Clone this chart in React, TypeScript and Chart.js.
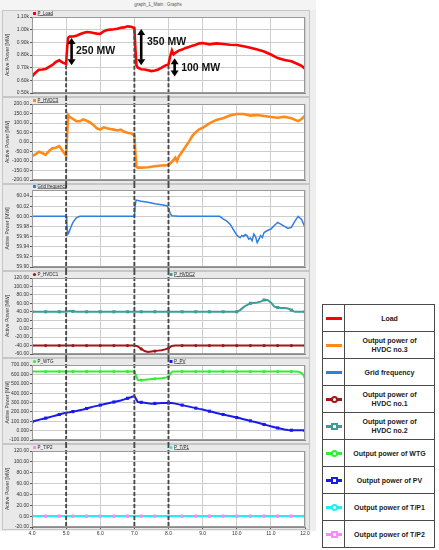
import React, { useEffect, useRef } from "react";
import { Chart, registerables } from "chart.js";

Chart.register(...registerables);

// ---------------- data ----------------
const X_TICKS = [4, 5, 6, 7, 8, 9, 10, 11, 12];
const X_LABELS = ["4.0", "5.0", "6.0", "7.0", "8.0", "9.0", "10.0", "11.0", "12.0"];

// event instants (s) marked with dashed lines
const EVENT_TIMES = [5.0, 7.0, 8.0];
const EVENT_START_LOAD = [0.72, 1.0, 0.72];

// load (k MW)
const LOAD_T = [4.0, 4.1, 4.2, 4.3, 4.4, 4.5, 4.6, 4.7, 4.8, 4.9, 5.0, 5.03, 5.06, 5.1, 5.2, 5.3, 5.4, 5.5, 5.6, 5.7, 5.8, 5.9, 6.0, 6.1, 6.2, 6.3, 6.4, 6.5, 6.6, 6.7, 6.8, 6.9, 7.0, 7.03, 7.06, 7.1, 7.2, 7.3, 7.4, 7.5, 7.6, 7.7, 7.8, 7.9, 8.0, 8.05, 8.1, 8.15, 8.2, 8.3, 8.4, 8.5, 8.6, 8.7, 8.8, 8.9, 9.0, 9.2, 9.4, 9.6, 9.8, 10.0, 10.2, 10.4, 10.6, 10.8, 11.0, 11.2, 11.4, 11.6, 11.8, 11.9, 12.0];
const LOAD_V = [0.63, 0.66, 0.683, 0.686, 0.69, 0.706, 0.722, 0.745, 0.758, 0.74, 0.73, 0.86, 0.935, 0.945, 0.946, 0.951, 0.964, 0.974, 0.982, 0.979, 0.974, 0.969, 0.967, 0.987, 0.997, 1.0, 1.003, 1.008, 1.015, 1.018, 1.026, 1.023, 1.013, 0.85, 0.72, 0.70, 0.688, 0.686, 0.68, 0.673, 0.678, 0.686, 0.70, 0.716, 0.727, 0.79, 0.835, 0.805, 0.817, 0.835, 0.843, 0.856, 0.863, 0.874, 0.881, 0.892, 0.894, 0.884, 0.892, 0.887, 0.881, 0.879, 0.869, 0.858, 0.843, 0.827, 0.804, 0.776, 0.76, 0.75, 0.727, 0.715, 0.691];

// HVDC no.3 (MW)
const HVDC3_T = [4.0, 4.1, 4.2, 4.3, 4.4, 4.5, 4.6, 4.7, 4.8, 4.9, 5.0, 5.03, 5.06, 5.1, 5.2, 5.3, 5.4, 5.5, 5.6, 5.7, 5.8, 5.9, 6.0, 6.1, 6.2, 6.3, 6.4, 6.5, 6.6, 6.7, 6.8, 6.9, 7.0, 7.03, 7.06, 7.1, 7.2, 7.4, 7.6, 7.8, 8.0, 8.1, 8.2, 8.25, 8.3, 8.4, 8.5, 8.6, 8.7, 8.8, 8.9, 9.0, 9.2, 9.4, 9.6, 9.8, 10.0, 10.2, 10.4, 10.6, 10.8, 11.0, 11.2, 11.4, 11.6, 11.8, 11.9, 12.0];
const HVDC3_V = [-74, -65, -51, -58, -68, -47, -33, -30, -22, -47, -73, 40, 142, 133, 121, 110, 109, 119, 112, 103, 90, 72, 65, 77, 72, 68, 65, 61, 65, 54, 49, 46, 33, -60, -130, -135, -135, -133, -128, -124, -121, -104, -82, -100, -77, -51, -25, 2, 33, 51, 67, 75, 98, 116, 125, 139, 147, 147, 139, 142, 137, 132, 128, 133, 125, 110, 121, 139];

// grid frequency (Hz)
const FREQ_T = [4.0, 5.0, 5.02, 5.05, 5.08, 5.12, 5.16, 5.2, 5.3, 5.4, 5.5, 5.6, 7.0, 7.02, 7.05, 7.2, 7.4, 7.6, 7.8, 7.95, 8.0, 8.05, 8.1, 8.3, 9.5, 9.6, 9.7, 9.8, 9.9, 10.0, 10.05, 10.1, 10.15, 10.2, 10.25, 10.3, 10.35, 10.4, 10.45, 10.5, 10.55, 10.6, 10.65, 10.7, 10.75, 10.8, 10.9, 11.0, 11.1, 11.2, 11.3, 11.4, 11.5, 11.6, 11.7, 11.8, 11.9, 12.0];
const FREQ_V = [60.0, 60.0, 59.985, 59.965, 59.968, 59.975, 59.982, 59.988, 59.997, 60.0, 60.0, 60.0, 60.0, 60.02, 60.032, 60.03, 60.028, 60.025, 60.023, 60.021, 60.016, 60.006, 60.001, 60.0, 60.0, 59.995, 59.991, 59.985, 59.974, 59.963, 59.96, 59.958, 59.962, 59.96, 59.964, 59.962, 59.955, 59.957, 59.952, 59.965, 59.96, 59.948, 59.955, 59.962, 59.958, 59.968, 59.972, 59.975, 59.982, 59.988, 59.984, 59.98, 59.976, 59.978, 59.99, 60.0, 59.994, 59.978];

// common sampling for the marker series (s)
const STEP_T = [
  4.0, 4.1, 4.2, 4.3, 4.4, 4.5, 4.6, 4.7, 4.8, 4.9,
  5.0, 5.1, 5.2, 5.3, 5.4, 5.5, 5.6, 5.7, 5.8, 5.9,
  6.0, 6.1, 6.2, 6.3, 6.4, 6.5, 6.6, 6.7, 6.8, 6.9,
  7.0, 7.1, 7.2, 7.3, 7.4, 7.5, 7.6, 7.7, 7.8, 7.9,
  8.0, 8.1, 8.2, 8.3, 8.4, 8.5, 8.6, 8.7, 8.8, 8.9,
  9.0, 9.1, 9.2, 9.3, 9.4, 9.5, 9.6, 9.7, 9.8, 9.9,
  10.0, 10.1, 10.2, 10.3, 10.4, 10.5, 10.6, 10.7, 10.8, 10.9,
  11.0, 11.1, 11.2, 11.3, 11.4, 11.5, 11.6, 11.7, 11.8, 11.9,
  12.0,
];
const HVDC1_V = [
  -40, -40, -40, -40, -40, -40, -40, -40, -40, -40,
  -40, -40, -40, -40, -40, -40, -40, -40, -40, -40,
  -40, -40, -40, -40, -40, -40, -40, -40, -40, -40,
  -40, -42, -48, -53, -55, -54, -53, -52, -51, -49,
  -46, -41, -40, -40, -40, -40, -40, -40, -40, -40,
  -40, -40, -40, -40, -40, -40, -40, -40, -40, -40,
  -40, -40, -40, -40, -40, -40, -40, -40, -40, -40,
  -40, -40, -40, -40, -40, -40, -40, -40, -40, -40,
  -40,
];
const HVDC2_V = [
  40, 40, 40, 40, 40, 40, 40, 40, 40, 40,
  40, 42, 41, 40, 40, 40, 40, 40, 40, 40,
  40, 40, 40, 40, 40, 40, 40, 40, 40, 40,
  40, 40, 40, 40, 40, 40, 40, 40, 40, 40,
  40, 40, 40, 40, 40, 40, 40, 40, 40, 40,
  40, 40, 40, 40, 40, 40, 40, 40, 40, 40,
  40, 44, 51, 56, 60, 61, 62, 64, 68, 68,
  62, 52, 50, 49, 49, 48, 44, 40, 40, 40,
  40,
];
const WTG_V = [
  630, 630, 630, 630, 630, 630, 630, 630, 630, 630,
  630, 630, 630, 630, 630, 630, 630, 630, 630, 630,
  630, 630, 630, 630, 630, 630, 630, 630, 630, 630,
  630, 540, 538, 542, 546, 550, 553, 556, 559, 563,
  575, 628, 630, 630, 630, 630, 630, 630, 630, 630,
  630, 630, 630, 630, 630, 630, 630, 630, 630, 630,
  630, 630, 630, 630, 630, 630, 630, 630, 630, 630,
  630, 630, 630, 630, 630, 630, 630, 630, 628, 615,
  570,
];
const PV_V = [
  95, 105, 115, 125, 133, 142, 152, 162, 172, 182,
  190, 196, 203, 210, 218, 226, 236, 246, 256, 264,
  272, 281, 290, 298, 305, 314, 322, 333, 345, 356,
  370, 305, 302, 298, 292, 287, 290, 292, 294, 295,
  295, 295, 288, 280, 272, 264, 256, 248, 240, 232,
  225, 216, 207, 198, 189, 180, 172, 163, 155, 147,
  139, 131, 122, 113, 104, 95, 86, 76, 66, 56,
  46, 37, 28, 20, 12, 7, 4, 4, 5, 4,
  2,
];
const TP1_V = [
  0, 0, 0, 0, 0, 0, 0, 0, 0, 0,
  0, 0, 0, 0, 0, 0, 0, 0, 0, 0,
  0, 0, 0, 0, 0, 0, 0, 0, 0, 0,
  0, 0, 0, 0, 0, 0, 0, 0, 0, 0,
  0, 0, 0, 0, 0, 0, 0, 0, 0, 0,
  0, 0, 0, 0, 0, 0, 0, 0, 0, 0,
  0, 0, 0, 0, 0, 0, 0, 0, 0, 0,
  0, 0, 0, 0, 0, 0, 0, 0, 0, 0,
  0,
];
const TP2_V = [
  0, 0, 0, 0, 0, 0, 0, 0, 0, 0,
  0, 0, 0, 0, 0, 0, 0, 0, 0, 0,
  0, 0, 0, 0, 0, 0, 0, 0, 0, 0,
  0, 0, 0, 0, 0, 0, 0, 0, 0, 0,
  0, 0, 0, 0, 0, 0, 0, 0, 0, 0,
  0, 0, 0, 0, 0, 0, 0, 0, 0, 0,
  0, 0, 0, 0, 0, 0, 0, 0, 0, 0,
  0, 0, 0, 0, 0, 0, 0, 0, 0, 0,
  0,
];

// y tick values and labels per panel (ascending)
const LOAD_TICKS = [0.5, 0.6, 0.7, 0.8, 0.9, 1.0, 1.1];
const LOAD_LABELS = ["0.50k", "0.60k", "0.70k", "0.80k", "0.90k", "1.00k", "1.10k"];
const HVDC3_TICKS = [-200, -150, -100, -50, 0, 50, 100, 150, 200];
const HVDC3_LABELS = ["-200.00", "-150.00", "-100.00", "-50.00", "0.00", "50.00", "100.00", "150.00", "200.00"];
const FREQ_TICKS = [59.9, 59.92, 59.94, 59.96, 59.98, 60.0, 60.02, 60.04];
const FREQ_LABELS = ["59.90", "59.92", "59.94", "59.96", "59.98", "60.00", "60.02", "60.04"];
const HVDC12_TICKS = [-60, -40, -20, 0, 20, 40, 60, 80, 100, 120];
const HVDC12_LABELS = ["-60.00", "-40.00", "-20.00", "0.00", "20.00", "40.00", "60.00", "80.00", "100.00", "120.00"];
const GEN_TICKS = [-100, 0, 100, 200, 300, 400, 500, 600, 700];
const GEN_LABELS = ["-100.000", "0.000", "100.000", "200.000", "300.000", "400.000", "500.000", "600.000", "700.000"];
const TP_TICKS = [-20, 0, 20, 40, 60, 80, 100, 120];
const TP_LABELS = ["-20.00", "0.00", "20.00", "40.00", "60.00", "80.00", "100.00", "120.00"];

// step annotations on the load panel
const STEP_TEXT = ["250 MW", "350 MW", "100 MW"];
const STEP_ARROW_X = [5.16, 7.2, 8.18];
const STEP_ARROW_TOP = [0.935, 1.005, 0.775];
const STEP_ARROW_BOTTOM = [0.72, 0.72, 0.63];
const STEP_TEXT_X = [5.29, 7.37, 8.37];
const STEP_TEXT_Y = [0.83, 0.9, 0.70];

// ---------------- styles ----------------
const FONT = '"Liberation Sans", Arial, Helvetica, sans-serif';
const C_LOAD = "#ff0000";
const C_HVDC3 = "#ff8a1c";
const C_FREQ = "#2f7fe0";
const C_HVDC1 = "#a01818";
const C_HVDC2 = "#3d9e99";
const C_WTG = "#33ee33";
const C_PV = "#1a1aee";
const C_TP1 = "#22eeee";
const C_TP2 = "#ff88ff";

const WIN_W = 316;
const Y_AXIS_W = 32;
const RIGHT_PAD = 11;
const X_AXIS_H = 12;
const GRID = "#cdcdcd";

function series(t: number[], v: number[]) {
  return t.map((x, i) => ({ x, y: v[i] }));
}

function lineDs(label: string, t: number[], v: number[], color: string, width: number, extra: any = {}) {
  return {
    label,
    data: series(t, v),
    borderColor: color,
    backgroundColor: color,
    borderWidth: width,
    pointRadius: 0,
    tension: 0,
    ...extra,
  };
}

function markerDs(label: string, v: number[], color: string, width: number, style: string, extra: any = {}) {
  const r = style === "rect" ? 2.2 : 1.6;
  return lineDs(label, STEP_T, v, color, width, {
    pointStyle: style,
    pointRadius: (c: any) => (c.dataIndex % 4 === 0 ? r : 0),
    pointBorderWidth: 0,
    ...extra,
  });
}

type LegendEntry = { text: string; color: string; style: string; col: number; underline: boolean };

type PanelDef = {
  top: number;
  height: number;
  plotTop: number;
  plotBottom: number;
  yMin: number;
  yMax: number;
  yTicks: number[];
  yLabels: string[];
  showX: boolean;
  datasets: any[];
  legend: LegendEntry[];
  first?: boolean;
};

const PANELS: PanelDef[] = [
  {
    top: 10, height: 87, plotTop: 17, plotBottom: 94,
    yMin: 0.5, yMax: 1.1, yTicks: LOAD_TICKS, yLabels: LOAD_LABELS, showX: false, first: true,
    datasets: [lineDs("P_Load", LOAD_T, LOAD_V, C_LOAD, 2.6)],
    legend: [{ text: "P_Load", color: C_LOAD, style: "rect", col: 0, underline: true }],
  },
  {
    top: 97, height: 87, plotTop: 104, plotBottom: 180,
    yMin: -200, yMax: 200, yTicks: HVDC3_TICKS, yLabels: HVDC3_LABELS, showX: false,
    datasets: [lineDs("P_HVDC3", HVDC3_T, HVDC3_V, C_HVDC3, 2.6)],
    legend: [{ text: "P_HVDC3", color: C_HVDC3, style: "rect", col: 0, underline: true }],
  },
  {
    top: 184, height: 87, plotTop: 190, plotBottom: 268,
    yMin: 59.9, yMax: 60.052, yTicks: FREQ_TICKS, yLabels: FREQ_LABELS, showX: false,
    datasets: [lineDs("Grid frequency", FREQ_T, FREQ_V, C_FREQ, 1.5)],
    legend: [{ text: "Grid frequency", color: C_FREQ, style: "rect", col: 0, underline: true }],
  },
  {
    top: 271, height: 87, plotTop: 278, plotBottom: 354,
    yMin: -60, yMax: 120, yTicks: HVDC12_TICKS, yLabels: HVDC12_LABELS, showX: false,
    datasets: [
      markerDs("P_HVDC1", HVDC1_V, C_HVDC1, 2, "circle"),
      markerDs("P_HVDC2", HVDC2_V, C_HVDC2, 2, "rect"),
    ],
    legend: [
      { text: "P_HVDC1", color: C_HVDC1, style: "circle", col: 0, underline: false },
      { text: "P_HVDC2", color: C_HVDC2, style: "rect", col: 1, underline: true },
    ],
  },
  {
    top: 358, height: 86, plotTop: 365, plotBottom: 441,
    yMin: -100, yMax: 700, yTicks: GEN_TICKS, yLabels: GEN_LABELS, showX: false,
    datasets: [
      markerDs("P_WTG", WTG_V, C_WTG, 2, "circle"),
      markerDs("P_PV", PV_V, C_PV, 2, "rect"),
    ],
    legend: [
      { text: "P_WTG", color: C_WTG, style: "circle", col: 0, underline: false },
      { text: "P_PV", color: C_PV, style: "rect", col: 1, underline: true },
    ],
  },
  {
    top: 444, height: 100, plotTop: 451, plotBottom: 527,
    yMin: -20, yMax: 120, yTicks: TP_TICKS, yLabels: TP_LABELS, showX: true,
    datasets: [
      markerDs("P_T/P1", TP1_V, C_TP1, 2.2, "circle", { order: 2 }),
      markerDs("P_T/P2", TP2_V, C_TP2, 2, "rect", { order: 1, showLine: false }),
    ],
    legend: [
      { text: "P_T/P2", color: C_TP2, style: "rect", col: 0, underline: false },
      { text: "P_T/P1", color: C_TP1, style: "circle", col: 1, underline: true },
    ],
  },
];

const LEGEND_ITEMS = [
  { lines: ["Load"], color: C_LOAD, marker: "" },
  { lines: ["Output power of", "HVDC no.3"], color: C_HVDC3, marker: "" },
  { lines: ["Grid frequency"], color: C_FREQ, marker: "" },
  { lines: ["Output power of", "HVDC no.1"], color: C_HVDC1, marker: "circle" },
  { lines: ["Output power of", "HVDC no.2"], color: C_HVDC2, marker: "rect" },
  { lines: ["Output power of WTG"], color: C_WTG, marker: "circle" },
  { lines: ["Output power of PV"], color: C_PV, marker: "rect" },
  { lines: ["Output power of T/P1"], color: C_TP1, marker: "circle" },
  { lines: ["Output power of T/P2"], color: C_TP2, marker: "rect" },
];

// ---------------- drawing helpers ----------------
function drawDoubleArrow(ctx: CanvasRenderingContext2D, x: number, y0: number, y1: number) {
  const head = 6;
  const hw = 4;
  ctx.save();
  ctx.strokeStyle = "#000";
  ctx.fillStyle = "#000";
  ctx.lineWidth = 2.6;
  ctx.beginPath();
  ctx.moveTo(x, y0 + head - 0.5);
  ctx.lineTo(x, y1 - head + 0.5);
  ctx.stroke();
  ctx.beginPath();
  ctx.moveTo(x, y0);
  ctx.lineTo(x - hw, y0 + head);
  ctx.lineTo(x + hw, y0 + head);
  ctx.closePath();
  ctx.fill();
  ctx.beginPath();
  ctx.moveTo(x, y1);
  ctx.lineTo(x - hw, y1 - head);
  ctx.lineTo(x + hw, y1 - head);
  ctx.closePath();
  ctx.fill();
  ctx.restore();
}

function panelPlugin(def: PanelDef) {
  return {
    id: "panelDecor",
    beforeDraw(chart: any) {
      const { ctx, chartArea: a, height } = chart;
      ctx.save();
      const frameBottom = def.showX ? a.bottom + 3 : height;
      ctx.fillStyle = "#e9e9e9";
      ctx.fillRect(2, 0, 308, frameBottom);
      ctx.strokeStyle = "#c6c6c6";
      ctx.lineWidth = 1;
      ctx.strokeRect(2.5, 0.5, 307, frameBottom - 1);
      ctx.fillStyle = "#ffffff";
      ctx.fillRect(a.left, a.top, a.right - a.left, a.bottom - a.top);
      ctx.restore();
    },
    afterDatasetsDraw(chart: any) {
      const { ctx, chartArea: a, height, scales } = chart;
      const xs = scales.x;
      const ys = scales.y;
      ctx.save();
      // event dashed lines
      ctx.strokeStyle = "#4a4a4a";
      ctx.lineWidth = 1.9;
      ctx.setLineDash([4, 2]);
      EVENT_TIMES.forEach((t, i) => {
        const px = xs.getPixelForValue(t);
        const y0 = def.first ? ys.getPixelForValue(EVENT_START_LOAD[i]) : 0;
        const y1 = def.showX ? a.bottom : height;
        ctx.beginPath();
        ctx.moveTo(px, y0);
        ctx.lineTo(px, y1);
        ctx.stroke();
      });
      ctx.setLineDash([]);
      // plot border
      ctx.strokeStyle = "#9a9a9a";
      ctx.lineWidth = 1;
      ctx.strokeRect(a.left + 0.5, a.top + 0.5, a.right - a.left - 1, a.bottom - a.top - 1);
      // step annotations
      if (def.first) {
        STEP_TEXT.forEach((txt, i) => {
          const x = xs.getPixelForValue(STEP_ARROW_X[i]);
          drawDoubleArrow(ctx, x, ys.getPixelForValue(STEP_ARROW_TOP[i]), ys.getPixelForValue(STEP_ARROW_BOTTOM[i]));
          ctx.fillStyle = "#111";
          ctx.font = `bold 10.5px ${FONT}`;
          ctx.textAlign = "left";
          ctx.textBaseline = "middle";
          ctx.fillText(txt, xs.getPixelForValue(STEP_TEXT_X[i]), ys.getPixelForValue(STEP_TEXT_Y[i]));
        });
      }
      ctx.restore();
    },
    afterDraw(chart: any) {
      const { ctx, chartArea: a } = chart;
      ctx.save();
      def.legend.forEach((item) => {
        const x0 = item.col === 0 ? a.left + 1 : (a.left + a.right) / 2 + 1;
        const y = a.top - 3.5;
        ctx.fillStyle = item.color;
        if (item.style === "rect") {
          ctx.fillRect(x0, y - 1.5, 3, 3);
        } else {
          ctx.beginPath();
          ctx.arc(x0 + 1.5, y, 1.6, 0, Math.PI * 2);
          ctx.fill();
        }
        ctx.fillStyle = "#222";
        ctx.font = `4.5px ${FONT}`;
        ctx.textAlign = "left";
        ctx.textBaseline = "middle";
        ctx.fillText(item.text, x0 + 4.5, y);
        if (item.underline) {
          const w = ctx.measureText(item.text).width;
          ctx.fillRect(x0 + 4.5, y + 2, w, 0.5);
        }
      });
      ctx.restore();
    },
  };
}

function buildConfig(def: PanelDef): any {
  const bottomPad = def.top + def.height - def.plotBottom - (def.showX ? X_AXIS_H : 0);
  return {
    type: "line",
    data: { datasets: def.datasets },
    options: {
      animation: false,
      responsive: false,
      devicePixelRatio: 1,
      events: [],
      layout: { padding: { left: 0, right: RIGHT_PAD, top: def.plotTop - def.top, bottom: bottomPad } },
      plugins: { legend: { display: false }, tooltip: { enabled: false }, title: { display: false } },
      scales: {
        x: {
          type: "linear",
          min: 4,
          max: 12,
          afterBuildTicks: (axis: any) => {
            axis.ticks = X_TICKS.map((v) => ({ value: v }));
          },
          afterFit: (axis: any) => {
            axis.height = def.showX ? X_AXIS_H : 0;
          },
          ticks: {
            display: def.showX,
            autoSkip: false,
            maxRotation: 0,
            padding: 2,
            color: "#333",
            font: { family: FONT, size: 5 },
            callback: (_v: any, i: number) => X_LABELS[i],
          },
          grid: { color: GRID, drawTicks: def.showX, tickLength: 2, tickColor: "#555" },
          border: { color: "#8a8a8a" },
        },
        y: {
          type: "linear",
          min: def.yMin,
          max: def.yMax,
          afterBuildTicks: (axis: any) => {
            axis.ticks = def.yTicks.map((v) => ({ value: v }));
          },
          afterFit: (axis: any) => {
            axis.width = Y_AXIS_W;
          },
          ticks: {
            autoSkip: false,
            padding: 1,
            color: "#333",
            font: { family: FONT, size: 5 },
            callback: (_v: any, i: number) => def.yLabels[i],
          },
          grid: { color: GRID, tickLength: 2, tickColor: "#555" },
          border: { color: "#555" },
          title: {
            display: true,
            text: "Active Power [MW]",
            color: "#333",
            font: { family: FONT, size: 5 },
            padding: { top: 5, bottom: 0 },
          },
        },
      },
    },
    plugins: [panelPlugin(def)],
  };
}

function Panel({ def }: { def: PanelDef }) {
  const ref = useRef<HTMLCanvasElement>(null);
  useEffect(() => {
    if (!ref.current) return;
    const chart = new Chart(ref.current, buildConfig(def));
    return () => chart.destroy();
  }, [def]);
  return (
    <canvas
      ref={ref}
      width={WIN_W}
      height={def.height}
      style={{ position: "absolute", left: 0, top: def.top, width: WIN_W, height: def.height, display: "block" }}
    />
  );
}

function Swatch({ color, marker }: { color: string; marker: string }) {
  return (
    <div style={{ position: "relative", width: 21, height: 26 }}>
      <div style={{ position: "absolute", left: 3, top: 11.5, width: 16, height: 3, background: color }} />
      {marker ? (
        <div
          style={{
            position: "absolute",
            left: 7.5,
            top: 9.5,
            width: 7,
            height: 7,
            boxSizing: "border-box",
            border: `2px solid ${color}`,
            background: "#fff",
            borderRadius: marker === "circle" ? "50%" : 0,
          }}
        />
      ) : null}
    </div>
  );
}

function LegendTable() {
  const cellFont = `bold 7px ${FONT}`;
  return (
    <table
      style={{
        position: "absolute",
        left: 322,
        top: 304,
        width: 113,
        height: 240,
        borderCollapse: "collapse",
        tableLayout: "fixed",
        font: cellFont,
        color: "#1a1a1a",
      }}
    >
      <tbody>
        {LEGEND_ITEMS.map((it, i) => (
          <tr key={i} style={{ height: 26.6 }}>
            <td style={{ width: 21, border: "1px solid #4a4a4a", padding: 0 }}>
              <Swatch color={it.color} marker={it.marker} />
            </td>
            <td style={{ border: "1px solid #4a4a4a", padding: 0, textAlign: "center", font: cellFont, lineHeight: "9px" }}>
              {it.lines.map((l, j) => (
                <div key={j}>{l}</div>
              ))}
            </td>
          </tr>
        ))}
      </tbody>
    </table>
  );
}

export default function App() {
  return (
    <div style={{ position: "absolute", left: 0, top: 0, width: 439, height: 550, background: "#fff", overflow: "hidden" }}>
      <div style={{ position: "absolute", left: 0, top: 0, width: WIN_W, height: 531, background: "#eeeeee" }} />
      <div
        style={{
          position: "absolute",
          left: 0,
          top: 0,
          width: WIN_W,
          height: 10,
          background: "#f4f4f4",
          font: `4.5px ${FONT}`,
          color: "#555",
          textAlign: "center",
          lineHeight: "10px",
        }}
      >
        graph_1_Main : Graphs
      </div>
      {PANELS.map((p, i) => (
        <Panel key={i} def={p} />
      ))}
      <LegendTable />
    </div>
  );
}
